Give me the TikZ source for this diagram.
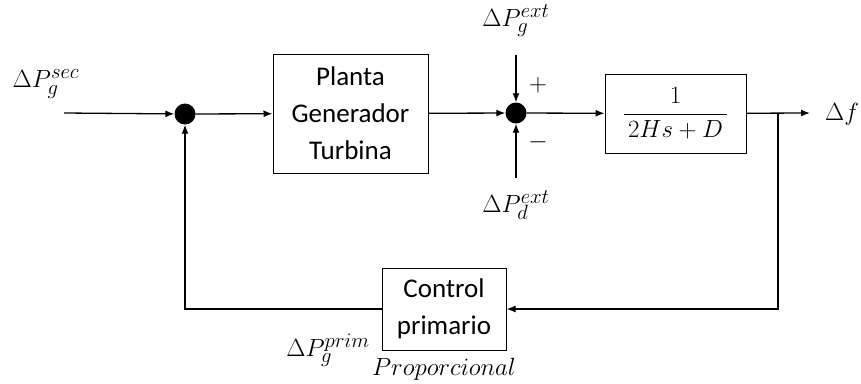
\documentclass[tikz,border=0pt]{standalone}
\usepackage{fontspec}
\setmainfont{Carlito}
\usetikzlibrary{arrows.meta}
\begin{document}
\begin{tikzpicture}[x=1pt,y=-1pt,
  blk/.style={draw, line width=1pt, inner sep=0pt, align=center, font=\fontsize{27}{37}\selectfont},
  sumdot/.style={circle, fill=black, minimum size=21pt, inner sep=0pt},
  lbl/.style={inner sep=0pt, font=\fontsize{31}{34}\selectfont},
  sig/.style={line width=1.3pt, -{Latex[length=9pt,width=7pt]}},
  wire/.style={line width=1.3pt}]
\useasboundingbox (0,0) rectangle (861,383);
% nodes
\node[sumdot] (s1) at (185,114) {};
\node[blk, minimum width=155pt, minimum height=119pt] (b1) at (350.5,113.5) {Planta\\Generador\\Turbina};
\node[sumdot] (s2) at (516,113) {};
\node[blk, minimum width=141pt, minimum height=79pt, font=\fontsize{32}{36}\selectfont] (b2) at (675.5,113.5) {$\displaystyle\frac{\,1\,}{\,2Hs+D\,}$};
\node[blk, minimum width=124pt, minimum height=82pt] (c) at (444,309) {Control\\primario};
% coordinates
\coordinate (in) at (64,113);
\coordinate (out) at (810,113);
\coordinate (br) at (778,113);
\coordinate (brd) at (778,309);
\coordinate (gext) at (516,55);
\coordinate (dext) at (516,178);
% labels
\node[lbl] (lsec) at (46,84) {$\Delta P_g^{sec}$};
\node[lbl] (lgext) at (516,21) {$\Delta P_g^{ext}$};
\node[lbl] (ldext) at (516,205) {$\Delta P_d^{ext}$};
\node[lbl] (lplus) at (538,85) {$+$};
\node[lbl] (lminus) at (538,142) {$-$};
\node[lbl, font=\fontsize{28}{32}\selectfont] (lf) at (842,114) {$\Delta f$};
\node[lbl] (lprim) at (328,350) {$\Delta P_g^{prim}$};
\node[lbl, font=\fontsize{27}{32}\selectfont] (lprop) at (444,369) {$Proporcional$};
% connectors
\draw[sig] (in) -- (s1);
\draw[sig] (s1) -- (b1);
\draw[sig] (b1) -- (s2);
\draw[sig] (s2) -- (b2);
\draw[sig] (b2) -- (out);
\draw[sig] (gext) -- (s2);
\draw[sig] (dext) -- (s2);
\draw[sig] (br) -- (brd) -- (c);
\draw[sig] (c.west) -| (s1);
\end{tikzpicture}
\end{document}
